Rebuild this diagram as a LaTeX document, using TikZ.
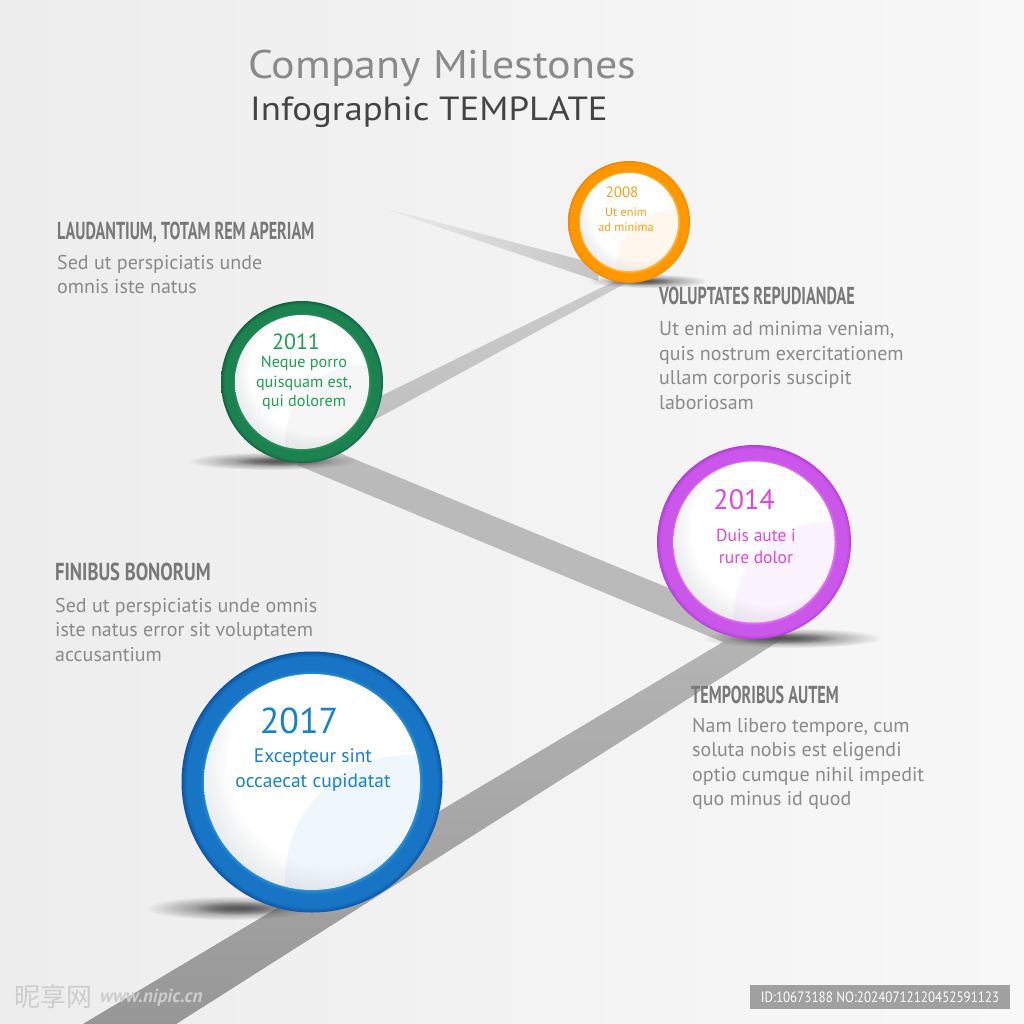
\documentclass[tikz,border=0pt]{standalone}
\usepackage{fontspec}
\setmainfont{PT Sans}
\newfontfamily\headfont[FakeStretch=0.66]{PT Sans}
\newfontfamily\headfontw[FakeStretch=0.76]{PT Sans}
\newfontfamily\titlefont[FakeStretch=1.1]{PT Sans}
\newfontfamily\idfont[FakeStretch=0.87]{PT Sans}
\newfontfamily\cjkfont{Noto Sans CJK SC}
\usetikzlibrary{calc,fadings}

\definecolor{bgL}{RGB}{237,237,237}
\definecolor{bgR}{RGB}{248,248,248}
\definecolor{titleA}{RGB}{138,138,138}
\definecolor{titleB}{RGB}{68,68,68}
\definecolor{headC}{RGB}{120,120,120}
\definecolor{bodyC}{RGB}{138,138,138}
\definecolor{roadA1}{RGB}{236,236,236}
\definecolor{roadA2}{RGB}{196,196,196}
\definecolor{roadB1}{RGB}{205,205,205}
\definecolor{roadB2}{RGB}{190,190,190}
\definecolor{roadC}{RGB}{186,186,186}
\definecolor{roadD1}{RGB}{182,182,182}
\definecolor{roadD2}{RGB}{150,150,150}
\definecolor{shadowC}{RGB}{80,80,80}
\definecolor{oD}{RGB}{245,135,0}
\definecolor{oM}{RGB}{255,152,0}
\definecolor{oL}{RGB}{255,190,70}
\definecolor{oT}{RGB}{247,160,20}
\definecolor{gD}{RGB}{16,100,62}
\definecolor{gM}{RGB}{28,130,80}
\definecolor{gL}{RGB}{45,150,95}
\definecolor{gT}{RGB}{30,160,80}
\definecolor{pD}{RGB}{180,62,218}
\definecolor{pM}{RGB}{202,86,234}
\definecolor{pL}{RGB}{235,125,240}
\definecolor{pT}{RGB}{225,70,220}
\definecolor{bD}{RGB}{12,85,165}
\definecolor{bM}{RGB}{24,116,196}
\definecolor{bL}{RGB}{45,150,215}
\definecolor{bT}{RGB}{22,130,200}
\definecolor{diskS}{RGB}{205,208,212}
\definecolor{idgray}{RGB}{160,160,160}
\definecolor{wmark}{RGB}{205,205,205}

\pgfdeclareradialshading{ringO}{\pgfpoint{0bp}{0bp}}{color(0bp)=(oL); color(20bp)=(oL); color(21bp)=(oM); color(24bp)=(oM); color(25bp)=(oD); color(50bp)=(oD)}
\pgfdeclareradialshading{ringG}{\pgfpoint{0bp}{0bp}}{color(0bp)=(gL); color(20.6bp)=(gL); color(21.4bp)=(gM); color(24bp)=(gM); color(25bp)=(gD); color(50bp)=(gD)}
\pgfdeclareradialshading{ringP}{\pgfpoint{0bp}{0bp}}{color(0bp)=(pL); color(20.6bp)=(pL); color(21.4bp)=(pM); color(24bp)=(pM); color(25bp)=(pD); color(50bp)=(pD)}
\pgfdeclareradialshading{ringB}{\pgfpoint{0bp}{0bp}}{color(0bp)=(bL); color(20.6bp)=(bL); color(21.4bp)=(bM); color(24bp)=(bM); color(25bp)=(bD); color(50bp)=(bD)}
\pgfdeclareradialshading{diskSh}{\pgfpoint{9bp}{9bp}}{color(0bp)=(white); color(24bp)=(white); color(30bp)=(diskS!45!white); color(37bp)=(diskS); color(50bp)=(diskS)}
\tikzfading[name=shfade, inner color=transparent!15, outer color=transparent!100]

\newcommand{\mygloss}[3]{%
  \begin{scope}
    \clip (#1.center) circle (#2pt);
    \fill[#3, opacity=.07] ($(#1.center)+(#2*0.9,#2*0.9)$) circle (#2*1.15pt);
  \end{scope}}

\begin{document}
\begin{tikzpicture}[x=1pt,y=-1pt,
  ringnode/.style={circle, inner sep=0pt, outer sep=0pt, shade, shading=#1},
  disknode/.style={circle, inner sep=0pt, outer sep=0pt, shade, shading=diskSh},
  headtxt/.style={anchor=base west, inner sep=0pt, text=headC, font=\headfont\bfseries\fontsize{24.5}{27}\selectfont},
  bodytxt/.style={anchor=north west, inner sep=0pt, align=left, text=bodyC, font=\fontsize{20}{24.5}\selectfont},
  shadowsh/.style={fill=shadowC, path fading=shfade}
]
\useasboundingbox (0,0) rectangle (1024,1024);
\shade[left color=bgL, right color=bgR] (0,0) rectangle (1024,1024);

% road
\begin{scope}
  \clip (0,0) rectangle (1024,1024);
  \shade[left color=roadA1, right color=roadA2] (378,206.5) -- (600,265) -- (598,281) -- cycle;
  \shade[top color=roadB1, bottom color=roadB2] (650,263.7) -- (330,421) -- (330,444) -- (650,270) -- cycle;
  \fill[roadC] (320,445) -- (720,609) -- (745,628) -- (723,642) -- (297,465) -- cycle;
  \shade[top color=roadD1, bottom color=roadD2] (723,642) -- (765,615) -- (787,636) -- (151,1040) -- (56,1040) -- cycle;
\end{scope}

% shadows
\path[shadowsh] (648,281) ellipse (60pt and 7pt);
\path[shadowsh] (640,281) ellipse (35pt and 4pt);
\path[shadowsh] (272,461) ellipse (84pt and 9pt);
\path[shadowsh] (285,461) ellipse (50pt and 5pt);
\path[shadowsh] (792,638) ellipse (90pt and 10pt);
\path[shadowsh] (780,638) ellipse (55pt and 6pt);
\path[shadowsh] (230,908) ellipse (84pt and 12pt);
\path[shadowsh] (245,908) ellipse (50pt and 7pt);

% circles
\node[ringnode=ringO, minimum size=122pt] (c2008) at (629,222) {};
\node[disknode, minimum size=98pt] (d2008) at (c2008.center) {};
\mygloss{d2008}{49}{oM}

\node[ringnode=ringG, minimum size=162pt] (c2011) at (302,382) {};
\node[disknode, minimum size=134pt] (d2011) at (c2011.center) {};
\mygloss{d2011}{67}{gray}

\node[ringnode=ringP, minimum size=194pt] (c2014) at (754,542) {};
\node[disknode, minimum size=161pt] (d2014) at (c2014.center) {};
\mygloss{d2014}{80.5}{pM}

\node[ringnode=ringB, minimum size=261pt] (c2017) at (312,782) {};
\node[disknode, minimum size=216pt] (d2017) at (c2017.center) {};
\mygloss{d2017}{108}{bL}

% circle texts
\node[text=oT, inner sep=0pt, font=\fontsize{15}{15}\selectfont] (y2008) at (622,192) {2008};
\node[text=oT, inner sep=0pt, align=center, font=\fontsize{12.3}{15}\selectfont] (s2008) at (626,220) {Ut enim\\ad minima};
\node[text=gT, inner sep=0pt, font=\fontsize{22}{22}\selectfont] (y2011) at (296,342) {2011};
\node[text=gT, inner sep=0pt, align=center, font=\fontsize{16.2}{19.5}\selectfont] (s2011) at (304,383) {Neque porro\\quisquam est,\\qui dolorem};
\node[text=pT, inner sep=0pt, font=\fontsize{28}{28}\selectfont] (y2014) at (744,500) {2014};
\node[text=pT, inner sep=0pt, align=center, font=\fontsize{17.5}{22}\selectfont] (s2014) at (756,546) {Duis aute i\\rure dolor};
\node[text=bT, inner sep=0pt, font=\fontsize{36}{36}\selectfont] (y2017) at (299,721) {2017};
\node[text=bT, inner sep=0pt, align=center, font=\fontsize{19.5}{25}\selectfont] (s2017) at (313,770) {Excepteur sint\\occaecat cupidatat};

% title
\node[anchor=base west, inner sep=0pt, text=titleA, font=\titlefont\fontsize{40}{40}\selectfont] (title1) at (248,79) {Company Milestones};
\node[anchor=base west, inner sep=0pt, text=titleB, font=\titlefont\fontsize{33.5}{34}\selectfont] (title2) at (250,121) {Infographic TEMPLATE};

% side texts
\node[headtxt] (h1) at (57,240) {LAUDANTIUM, TOTAM REM APERIAM};
\node[bodytxt] (b1) at (57,255) {Sed ut perspiciatis unde\\omnis iste natus};
\node[headtxt] (h2) at (659,304) {VOLUPTATES REPUDIANDAE};
\node[bodytxt] (b2) at (659,321.5) {Ut enim ad minima veniam,\\quis nostrum exercitationem\\ullam corporis suscipit\\laboriosam};
\node[headtxt, font=\headfontw\bfseries\fontsize{24.5}{27}\selectfont] (h3) at (55,580) {FINIBUS BONORUM};
\node[bodytxt] (b3) at (55,598) {Sed ut perspiciatis unde omnis\\iste natus error sit voluptatem\\accusantium};
\node[headtxt] (h4) at (691,703) {TEMPORIBUS AUTEM};
\node[bodytxt] (b4) at (692,718) {Nam libero tempore, cum\\soluta nobis est eligendi\\optio cumque nihil impedit\\quo minus id quod};

% watermark
\node[anchor=west, inner sep=0pt, text=wmark, font=\cjkfont\fontsize{26}{26}\selectfont] (wm1) at (14,997) {昵享网};
\node[anchor=west, inner sep=0pt, text=wmark, font=\bfseries\itshape\fontsize{19}{19}\selectfont] (wm2) at (100,998) {www.nipic.cn};
\node[fill=idgray, text=white, inner sep=0pt, minimum width=260pt, minimum height=24pt, font=\idfont\fontsize{15}{15}\selectfont] (idbox) at (880,997) {ID:10673188 NO:20240712120452591123};
\end{tikzpicture}
\end{document}
